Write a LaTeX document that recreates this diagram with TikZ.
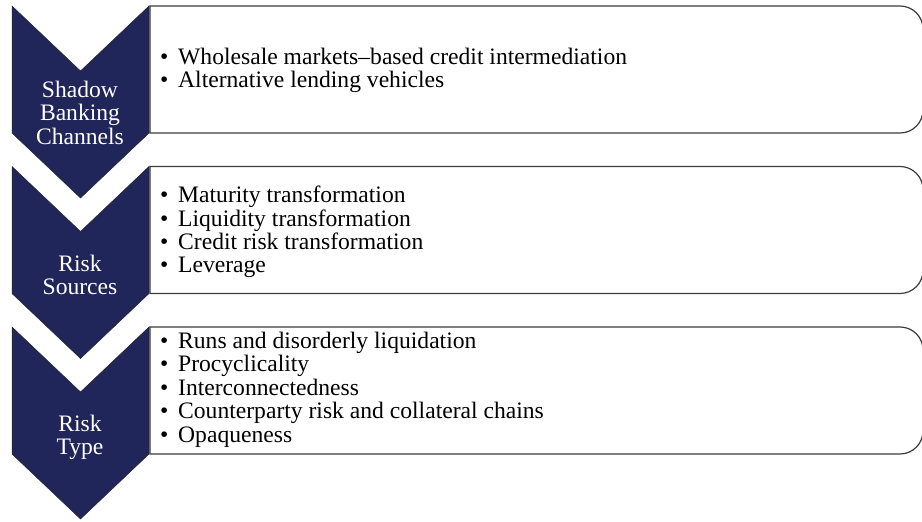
\documentclass[tikz,border=0pt]{standalone}
\usepackage{fontspec}
\setmainfont{Liberation Serif}
\definecolor{navyfill}{RGB}{32,37,90}
\definecolor{boxline}{RGB}{60,60,60}
\tikzset{
  chev/.style={fill=navyfill, draw=black!85, line width=0.5pt},
  listbox/.style={draw=boxline, line width=1.2pt},
  chevlabel/.style={text=white, anchor=base, inner sep=0pt, font=\fontsize{23.6}{23.4}\selectfont},
  item/.style={anchor=base west, inner sep=0pt, font=\fontsize{23.6}{23.4}\selectfont},
}
\newcommand{\bul}{\makebox[18pt][l]{\textbullet}}
\begin{document}
\begin{tikzpicture}[x=1pt,y=1pt]
\useasboundingbox (0,0) rectangle (922,522);
% chevrons
\foreach \t [count=\i] in {6,166.5,327}{
  \pgfmathsetmacro{\ya}{522-\t}
  \pgfmathsetmacro{\yb}{522-\t-65}
  \pgfmathsetmacro{\yc}{522-\t-127}
  \pgfmathsetmacro{\yd}{522-\t-192}
  \draw[chev] (12,\ya) -- (80.5,\yb) -- (149,\ya) -- (149,\yc) -- (80.5,\yd) -- (12,\yc) -- cycle;
}
% boxes
\foreach \top/\bot in {516/389, 355.5/228.5, 195/68}{
  \draw[listbox] (150,\top) -- (900,\top) arc[start angle=90,end angle=0,radius=23]
     -- (923,\bot+23) arc[start angle=0,end angle=-90,radius=23] -- (150,\bot) -- cycle;
}
% chevron labels
\node[chevlabel] (c1a) at (80,424) {Shadow};
\node[chevlabel] (c1b) at (80,401) {Banking};
\node[chevlabel] (c1c) at (80,377) {Channels};
\node[chevlabel] (c2a) at (80,250) {Risk};
\node[chevlabel] (c2b) at (80,227) {Sources};
\node[chevlabel] (c3a) at (80,90) {Risk};
\node[chevlabel] (c3b) at (80,67) {Type};
% box 1
\node[item] (b1a) at (160,457) {\bul Wholesale markets–based credit intermediation};
\node[item] (b1b) at (160,434) {\bul Alternative lending vehicles};
% box 2
\node[item] (b2a) at (160,319) {\bul Maturity transformation};
\node[item] (b2b) at (160,295.5) {\bul Liquidity transformation};
\node[item] (b2c) at (160,272) {\bul Credit risk transformation};
\node[item] (b2d) at (160,249) {\bul Leverage};
% box 3
\node[item] (b3a) at (160,173) {\bul Runs and disorderly liquidation};
\node[item] (b3b) at (160,150) {\bul Procyclicality};
\node[item] (b3c) at (160,126) {\bul Interconnectedness};
\node[item] (b3d) at (160,103) {\bul Counterparty risk and collateral chains};
\node[item] (b3e) at (160,79) {\bul Opaqueness};
\end{tikzpicture}
\end{document}
